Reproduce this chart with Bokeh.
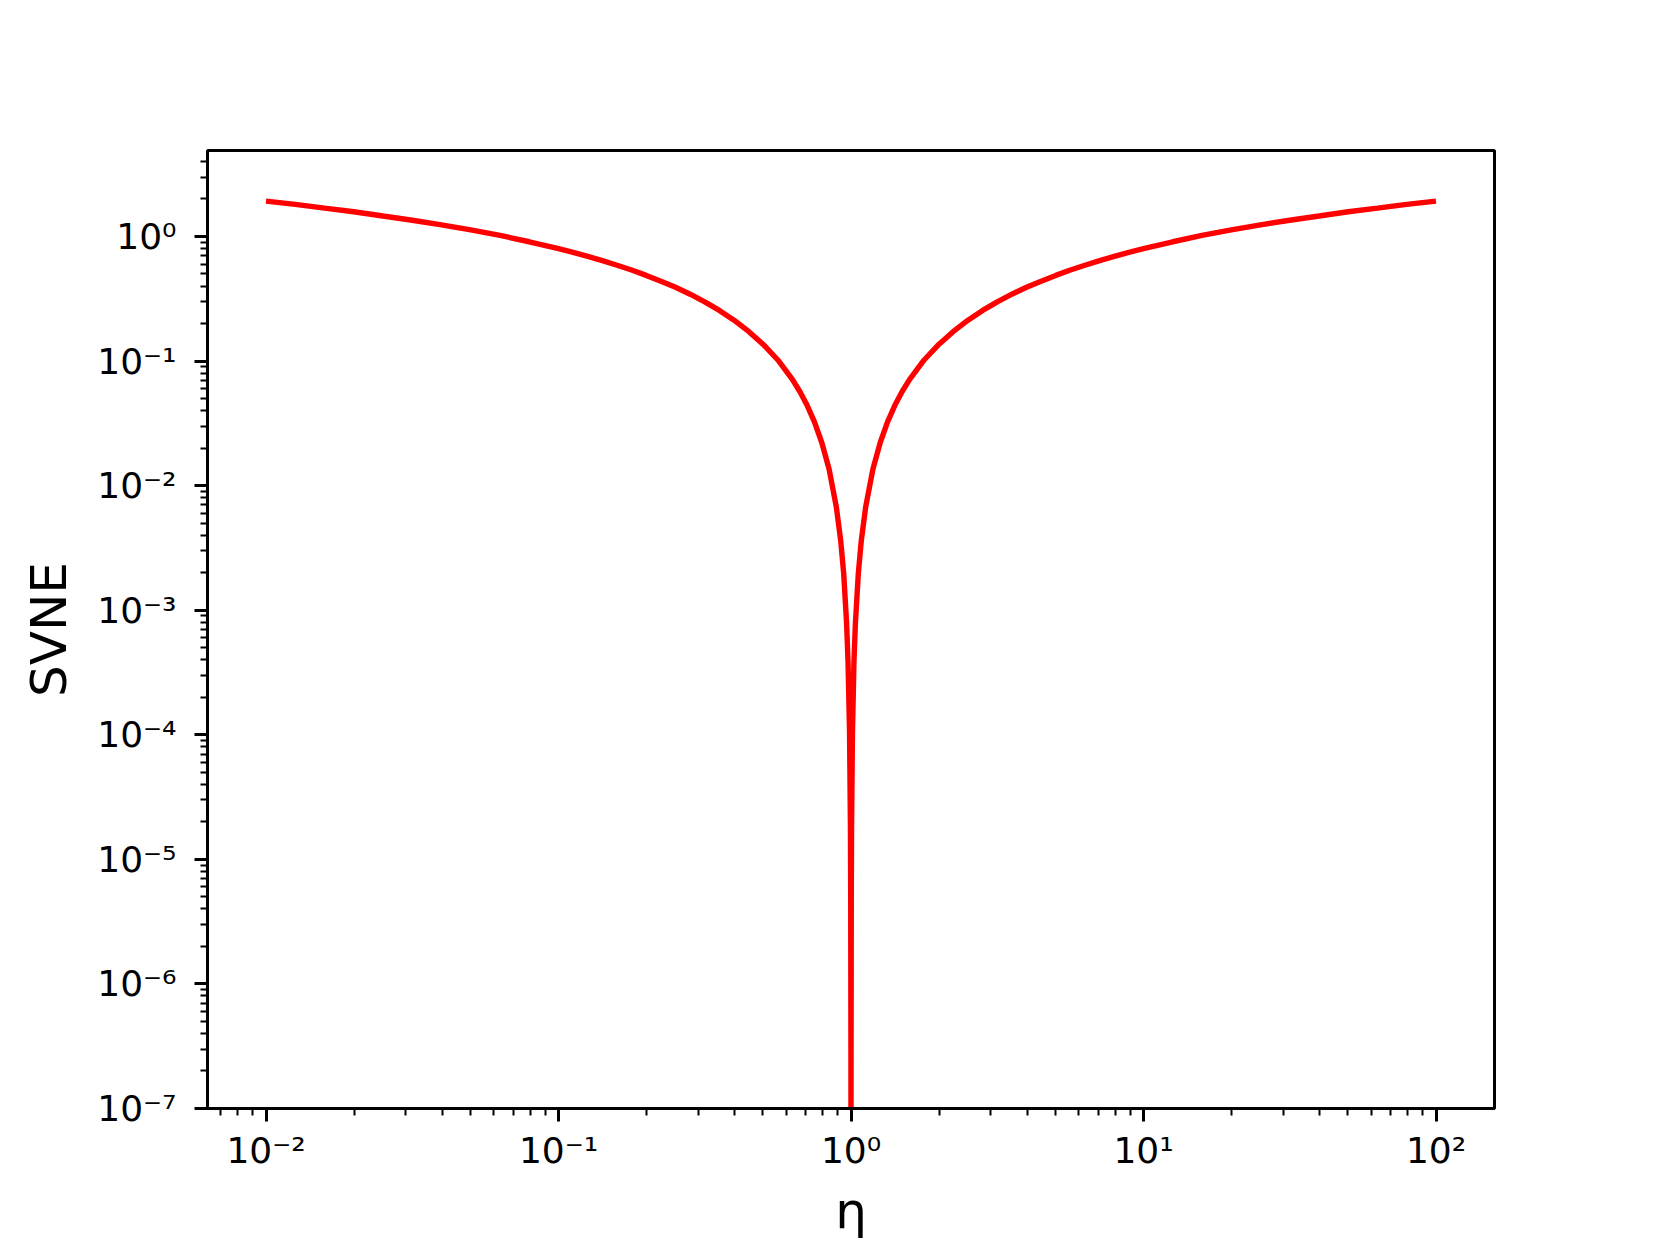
from bokeh.plotting import figure
from bokeh.models import Range1d, FixedTicker, CustomJSTickFormatter
from bokeh.embed import file_html
from bokeh.resources import INLINE

# ---- data ----
eta = [0.01, 0.01259, 0.01585, 0.01995, 0.02512, 0.03162, 0.03981, 0.05012, 0.0631, 0.07943,
       0.1, 0.1122, 0.1259, 0.1413, 0.1585, 0.1778, 0.1995, 0.2239, 0.2512, 0.2818,
       0.3162, 0.3548, 0.3981, 0.4467, 0.5012, 0.5623, 0.631, 0.6683, 0.7079, 0.7499,
       0.7943, 0.8414, 0.8913, 0.9226, 0.9441, 0.9661, 0.9772, 0.9886, 0.9954, 0.9977,
       0.99954, 0.99977,
       1.0,
       1.00023, 1.00046, 1.0023, 1.0046, 1.0116, 1.0233, 1.0351, 1.0593, 1.0839, 1.122,
       1.1885, 1.2589, 1.3335, 1.4125, 1.4962, 1.5849, 1.7783, 1.9953, 2.2387, 2.5119,
       2.8184, 3.1623, 3.5481, 3.9811, 4.4668, 5.0119, 5.6234, 6.3096, 7.0795, 7.9433,
       8.9125, 10.0, 12.589, 15.849, 19.953, 25.119, 31.623, 39.811, 50.119, 63.096,
       79.433, 100.0]
svne = [1.92, 1.81, 1.69, 1.58, 1.46, 1.35, 1.24, 1.13, 1.02, 0.907,
        0.799, 0.745, 0.692, 0.640, 0.588, 0.538, 0.487, 0.438, 0.391, 0.344,
        0.299, 0.255, 0.213, 0.173, 0.136, 0.102, 0.0709, 0.0570, 0.0441, 0.0325,
        0.0222, 0.0136, 0.0067, 0.00358, 0.00197, 0.00078, 0.000375, 0.000105, 1.93e-5, 5.27e-6,
        2.53e-7, 6.8e-8,
        1e-12,
        6.8e-8, 2.53e-7, 5.27e-6, 1.93e-5, 0.000105, 0.000375, 0.00078, 0.00197, 0.00358, 0.0067,
        0.0136, 0.0222, 0.0325, 0.0441, 0.0570, 0.0709, 0.102, 0.136, 0.173, 0.213,
        0.255, 0.299, 0.344, 0.391, 0.438, 0.487, 0.538, 0.588, 0.640, 0.692,
        0.745, 0.799, 0.907, 1.02, 1.13, 1.24, 1.35, 1.46, 1.58, 1.69,
        1.81, 1.92]

x_ticks = [0.01, 0.1, 1.0, 10.0, 100.0]
x_tick_labels = ["10⁻²", "10⁻¹", "10⁰", "10¹", "10²"]
y_ticks = [1e-7, 1e-6, 1e-5, 1e-4, 1e-3, 1e-2, 1e-1, 1.0]
y_tick_labels = ["10⁻⁷", "10⁻⁶", "10⁻⁵", "10⁻⁴", "10⁻³", "10⁻²", "10⁻¹", "10⁰"]

x_label = "η"
y_label = "SVNE"

# ---- layout / style ----
X_MIN, X_MAX = 10 ** -2.2, 10 ** 2.2
Y_MIN, Y_MAX = 1e-7, 4.9
W, H = 1656, 1243

p = figure(width=W, height=H, x_axis_type="log", y_axis_type="log",
           x_range=Range1d(X_MIN, X_MAX), y_range=Range1d(Y_MIN, Y_MAX),
           output_backend="svg", toolbar_location=None)
p.min_border_left = 207
p.min_border_top = 150
p.min_border_right = W - 1494
p.min_border_bottom = H - 1108

p.background_fill_color = "white"
p.border_fill_color = "white"
p.outline_line_color = "black"
p.outline_line_width = 3
p.xgrid.visible = False
p.ygrid.visible = False

x_minor = [m * 10.0 ** k for k in range(-3, 3) for m in range(2, 10)]
x_minor = [v for v in x_minor if X_MIN <= v <= X_MAX]
y_minor = [m * 10.0 ** k for k in range(-8, 1) for m in range(2, 10)]
y_minor = [v for v in y_minor if Y_MIN <= v <= Y_MAX]

fmt_code = """
const i = vals.findIndex(v => Math.abs(Math.log10(v) - Math.log10(tick)) < 1e-6);
return i >= 0 ? labs[i] : "";
"""

for ax, ticks, minor, labels in ((p.xaxis[0], x_ticks, x_minor, x_tick_labels),
                                 (p.yaxis[0], y_ticks, y_minor, y_tick_labels)):
    ax.ticker = FixedTicker(ticks=ticks, minor_ticks=minor)
    ax.formatter = CustomJSTickFormatter(args=dict(vals=ticks, labs=labels), code=fmt_code)
    ax.axis_line_color = "black"
    ax.axis_line_width = 3
    ax.major_tick_line_color = "black"
    ax.major_tick_line_width = 3
    ax.major_tick_out = 13
    ax.major_tick_in = 0
    ax.minor_tick_line_color = "black"
    ax.minor_tick_line_width = 2
    ax.minor_tick_out = 7
    ax.minor_tick_in = 0
    ax.major_label_text_font = "DejaVu Sans"
    ax.major_label_text_font_size = "36px"
    ax.major_label_text_color = "black"
    ax.axis_label_text_font = "DejaVu Sans"
    ax.axis_label_text_font_size = "50px"
    ax.axis_label_text_font_style = "normal"
    ax.axis_label_text_color = "black"

p.xaxis.axis_label = x_label
p.yaxis.axis_label = y_label
p.xaxis.major_label_standoff = 8
p.xaxis.axis_label_standoff = 8
p.yaxis.major_label_standoff = 18
p.yaxis.axis_label_standoff = 16

p.line(eta, svne, line_color="#ff0000", line_width=5.4)

open("out.html", "w").write(file_html(p, INLINE))
